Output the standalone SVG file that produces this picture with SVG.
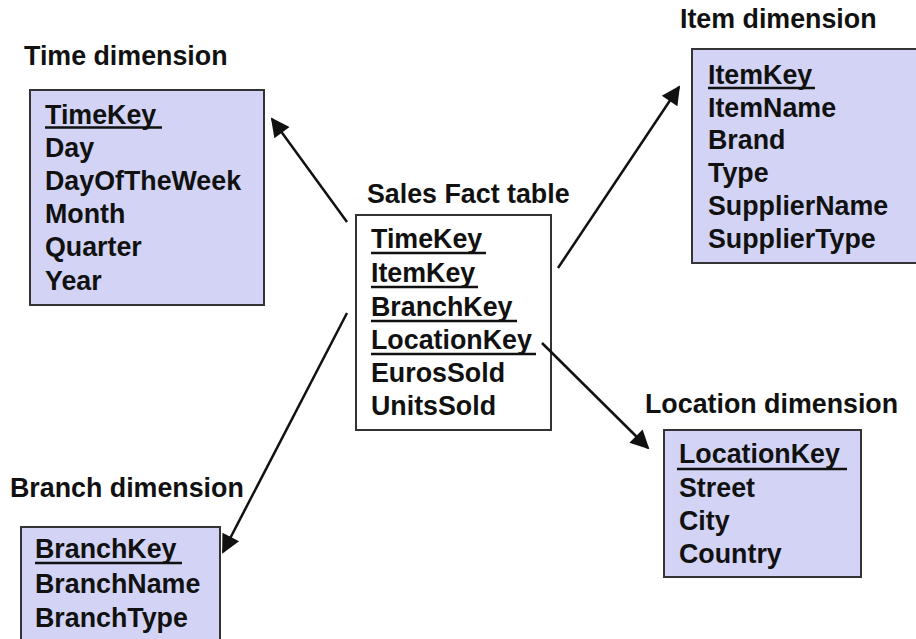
<svg xmlns="http://www.w3.org/2000/svg" width="916" height="639" viewBox="0 0 916 639">
  <style>
    .t { font-family: "Liberation Sans", Arial, sans-serif; font-weight: bold; font-size: 26.8px; fill: #111; }
    .dim { fill: #d3d4f5; stroke: #333; stroke-width: 2; }
    .fact { fill: #fff; stroke: #333; stroke-width: 2; }
    .ul { stroke: #111; stroke-width: 2.5; }
    .conn { stroke: #111; stroke-width: 2.5; fill: none; marker-end: url(#arrow); }
  </style>
  <defs>
    <marker id="arrow" viewBox="0 0 10 10" refX="9" refY="5" markerWidth="9" markerHeight="7.5" markerUnits="strokeWidth" orient="auto">
      <path d="M0,0 L10,5 L0,10 z" fill="#111"/>
    </marker>
  </defs>
  <rect width="916" height="639" fill="#fff"/>

  <g id="time-dimension">
    <text class="t" x="24" y="65">Time dimension</text>
    <rect class="dim" x="30" y="90" width="234" height="215"/>
    <text class="t" x="45" y="124">TimeKey</text>
    <line class="ul" x1="45" y1="127.5" x2="162" y2="127.5"/>
    <text class="t" x="45" y="157">Day</text>
    <text class="t" x="45" y="190">DayOfTheWeek</text>
    <text class="t" x="45" y="223">Month</text>
    <text class="t" x="45" y="256">Quarter</text>
    <text class="t" x="45" y="290">Year</text>
  </g>

  <g id="sales-fact">
    <text class="t" x="367" y="203">Sales Fact table</text>
    <rect class="fact" x="356" y="215" width="195" height="215"/>
    <text class="t" x="371" y="248">TimeKey</text>
    <line class="ul" x1="371" y1="253" x2="486" y2="253"/>
    <text class="t" x="371" y="282">ItemKey</text>
    <line class="ul" x1="371" y1="287" x2="478" y2="287"/>
    <text class="t" x="371" y="316">BranchKey</text>
    <line class="ul" x1="371" y1="321" x2="517" y2="321"/>
    <text class="t" x="371" y="349">LocationKey</text>
    <line class="ul" x1="371" y1="354" x2="536" y2="354"/>
    <text class="t" x="371" y="382">EurosSold</text>
    <text class="t" x="371" y="415">UnitsSold</text>
  </g>

  <g id="item-dimension">
    <text class="t" x="680" y="28">Item dimension</text>
    <rect class="dim" x="692" y="49" width="226" height="214"/>
    <text class="t" x="708" y="84">ItemKey</text>
    <line class="ul" x1="708" y1="88" x2="815" y2="88"/>
    <text class="t" x="708" y="117">ItemName</text>
    <text class="t" x="708" y="149">Brand</text>
    <text class="t" x="708" y="182">Type</text>
    <text class="t" x="708" y="215">SupplierName</text>
    <text class="t" x="708" y="248">SupplierType</text>
  </g>

  <g id="location-dimension">
    <text class="t" x="645" y="413">Location dimension</text>
    <rect class="dim" x="664" y="430" width="197" height="147"/>
    <text class="t" x="679" y="463">LocationKey</text>
    <line class="ul" x1="677" y1="469" x2="847" y2="469"/>
    <text class="t" x="679" y="497">Street</text>
    <text class="t" x="679" y="530">City</text>
    <text class="t" x="679" y="563">Country</text>
  </g>

  <g id="branch-dimension">
    <text class="t" x="10" y="497">Branch dimension</text>
    <rect class="dim" x="21" y="527" width="199" height="120"/>
    <text class="t" x="35" y="558">BranchKey</text>
    <line class="ul" x1="35" y1="563" x2="182" y2="563"/>
    <text class="t" x="35" y="593">BranchName</text>
    <text class="t" x="35" y="627">BranchType</text>
  </g>

  <g id="connectors">
    <line class="conn" x1="347" y1="222" x2="272" y2="119"/>
    <line class="conn" x1="558" y1="268" x2="679" y2="87"/>
    <line class="conn" x1="347" y1="313" x2="223" y2="552"/>
    <line class="conn" x1="542" y1="343" x2="648" y2="448"/>
  </g>
</svg>
